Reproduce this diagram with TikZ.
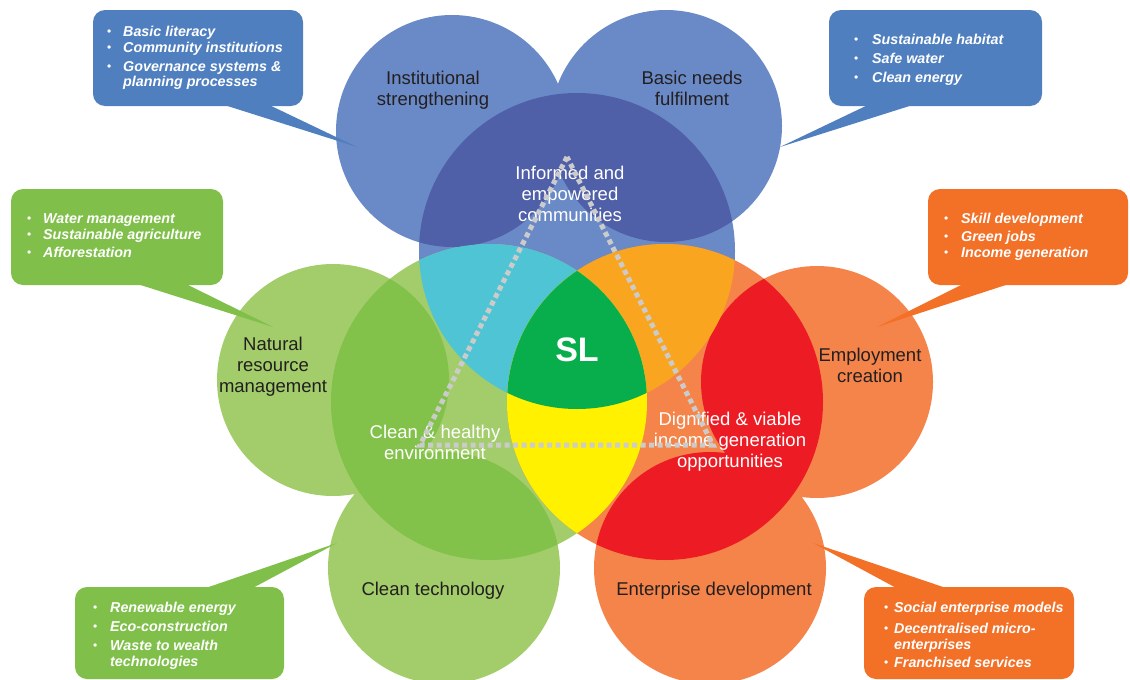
\documentclass[tikz,border=0pt]{standalone}
\usepackage{fontspec}
\setmainfont{Liberation Sans}
\definecolor{lblue}{HTML}{6A8AC7}
\definecolor{dblue}{HTML}{4F5FA8}
\definecolor{cblue}{HTML}{4F7FBF}
\definecolor{lgreen}{HTML}{A2CD6A}
\definecolor{dgreen}{HTML}{82C14A}
\definecolor{cgreen}{HTML}{80C04A}
\definecolor{lorange}{HTML}{F5844A}
\definecolor{dred}{HTML}{ED1C24}
\definecolor{corange}{HTML}{F37027}
\definecolor{cyanx}{HTML}{4EC4D4}
\definecolor{amber}{HTML}{F9A51F}
\definecolor{yel}{HTML}{FFF100}
\definecolor{slgreen}{HTML}{08AE4B}
\definecolor{tridashc}{HTML}{CBCBCB}
\definecolor{labeltext}{HTML}{231F20}
\def\SmallR{116pt}
\def\BigR{158pt}
\newcommand{\cbul}[1]{\makebox[#1][l]{\raisebox{0.5pt}{\fontsize{12}{12}\selectfont\mdseries\upshape\textbullet}}}
\begin{document}
\begin{tikzpicture}[x=1pt,y=-1pt,
  lbl/.style={text=labeltext, font=\fontsize{18.5}{21}\selectfont, align=center, inner sep=0pt},
  wlbl/.style={text=white, font=\fontsize{18.5}{21}\selectfont, align=center, inner sep=0pt},
  ctext/.style={text=white, font=\fontsize{14.3}{16}\selectfont\bfseries\itshape, anchor=base west, inner sep=0pt},
  cbox/.style={rounded corners=12pt},
  tri/.style={draw=tridashc, line width=5pt, dash pattern=on 5pt off 3.5pt}]
\useasboundingbox (0,0) rectangle (1130,680);
% centres
\coordinate (cT) at (577,251);
\coordinate (cL) at (489,402);
\coordinate (cR) at (665,402);
\coordinate (sTL) at (452,131);
\coordinate (sTR) at (666,126);
\coordinate (sL) at (333,380);
\coordinate (sR) at (817,382);
\coordinate (sBL) at (444,568);
\coordinate (sBR) at (710,568);
% small circles
\fill[lblue] (sTL) circle[radius=\SmallR] (sTR) circle[radius=\SmallR];
\fill[lgreen] (sL) circle[radius=\SmallR] (sBL) circle[radius=\SmallR];
\fill[lorange] (sR) circle[radius=\SmallR] (sBR) circle[radius=\SmallR];
% big circles
\fill[lblue] (cT) circle[radius=\BigR];
\fill[lgreen] (cL) circle[radius=\BigR];
\fill[lorange] (cR) circle[radius=\BigR];
% big with small overlaps
\begin{scope}
  \clip (cT) circle[radius=\BigR];
  \fill[dblue] (sTL) circle[radius=\SmallR] (sTR) circle[radius=\SmallR];
\end{scope}
\begin{scope}
  \clip (cL) circle[radius=\BigR];
  \fill[dgreen] (sL) circle[radius=\SmallR] (sBL) circle[radius=\SmallR];
\end{scope}
\begin{scope}
  \clip (cR) circle[radius=\BigR];
  \fill[dred] (sR) circle[radius=\SmallR] (sBR) circle[radius=\SmallR];
\end{scope}
% big pairwise overlaps
\begin{scope}
  \clip (cT) circle[radius=\BigR];
  \fill[cyanx] (cL) circle[radius=\BigR];
\end{scope}
\begin{scope}
  \clip (cT) circle[radius=\BigR];
  \fill[amber] (cR) circle[radius=\BigR];
\end{scope}
\begin{scope}
  \clip (cL) circle[radius=\BigR];
  \fill[yel] (cR) circle[radius=\BigR];
\end{scope}
\begin{scope}
  \clip (cT) circle[radius=\BigR];
  \clip (cL) circle[radius=\BigR];
  \fill[slgreen] (cR) circle[radius=\BigR];
\end{scope}
% labels
\node[lbl] (inst) at (433,90) {Institutional\\strengthening};
\node[lbl] (basic) at (692,88) {Basic needs\\fulfilment};
\node[lbl] (natural) at (273,367) {Natural\\resource\\management};
\node[lbl] (employ) at (870,365) {Employment\\creation};
\node[lbl] (cleantech) at (433,591) {Clean technology};
\node[lbl] (enterprise) at (714,591) {Enterprise development};
\node[wlbl] (informed) at (570,194) {Informed and\\empowered\\communities};
\node[wlbl] (cleanenv) at (435,442) {Clean \& healthy\\environment};
\node[wlbl] (dignified) at (730,442) {Dignified \& viable\\income generation\\opportunities};
\node[text=white, font=\fontsize{34}{36}\selectfont\bfseries, inner sep=0pt] (sl) at (577,350) {SL};
% dashed triangle
\coordinate (tA) at (567,157);
\coordinate (tB) at (420,445);
\coordinate (tC) at (713,445);
\draw[tri] (tA) -- (tB) -- (tC) -- cycle;
% callouts
\coordinate (pTL) at (357,147);
\coordinate (pTR) at (780,147);
\coordinate (pL) at (273,327);
\coordinate (pR) at (877,327);
\coordinate (pBL) at (337,543);
\coordinate (pBR) at (813,543);
\fill[cblue, cbox] (93,10) rectangle (303,106);
\fill[cblue] (218,103) -- (265,103) -- (pTL) -- cycle;
\fill[cblue, cbox] (829,10) rectangle (1042,106);
\fill[cblue] (872,103) -- (919,103) -- (pTR) -- cycle;
\fill[cgreen, cbox] (11,189) rectangle (223,285);
\fill[cgreen] (131,282) -- (182,282) -- (pL) -- cycle;
\fill[corange, cbox] (928,189) rectangle (1128,285);
\fill[corange] (967,282) -- (1015,282) -- (pR) -- cycle;
\fill[cgreen, cbox] (75,587) rectangle (284,679);
\fill[cgreen] (200,590) -- (249,590) -- (pBL) -- cycle;
\fill[corange, cbox] (864,587) rectangle (1074,679);
\fill[corange] (900,590) -- (952,590) -- (pBR) -- cycle;
% callout texts
\node[ctext] (tlText) at (107,36) {\begin{tabular}[t]{@{}l@{}}\cbul{16pt}Basic literacy\\ \cbul{16pt}Community institutions\\[3pt] \cbul{16pt}Governance systems \&\\ \hspace*{16pt}planning processes\end{tabular}};
\node[ctext] (trText) at (854,44) {\begin{tabular}[t]{@{}l@{}}\cbul{18pt}Sustainable habitat\\[3pt] \cbul{18pt}Safe water\\[3pt] \cbul{18pt}Clean energy\end{tabular}};
\node[ctext] (lText) at (27,223) {\begin{tabular}[t]{@{}l@{}}\cbul{16pt}Water management\\ \cbul{16pt}Sustainable agriculture\\[2pt] \cbul{16pt}Afforestation\end{tabular}};
\node[ctext] (rText) at (944,223) {\begin{tabular}[t]{@{}l@{}}\cbul{17pt}Skill development\\[2pt] \cbul{17pt}Green jobs\\ \cbul{17pt}Income generation\end{tabular}};
\node[ctext] (blText) at (93,612) {\begin{tabular}[t]{@{}l@{}}\cbul{17pt}Renewable energy\\[3pt] \cbul{17pt}Eco-construction\\[3pt] \cbul{17pt}Waste to wealth\\ \hspace*{17pt}technologies\end{tabular}};
\node[ctext] (brText) at (884,612) {\begin{tabular}[t]{@{}l@{}}\cbul{10pt}Social enterprise models\\[5pt] \cbul{10pt}Decentralised micro-\\ \hspace*{10pt}enterprises\\[2pt] \cbul{10pt}Franchised services\end{tabular}};
\end{tikzpicture}
\end{document}
